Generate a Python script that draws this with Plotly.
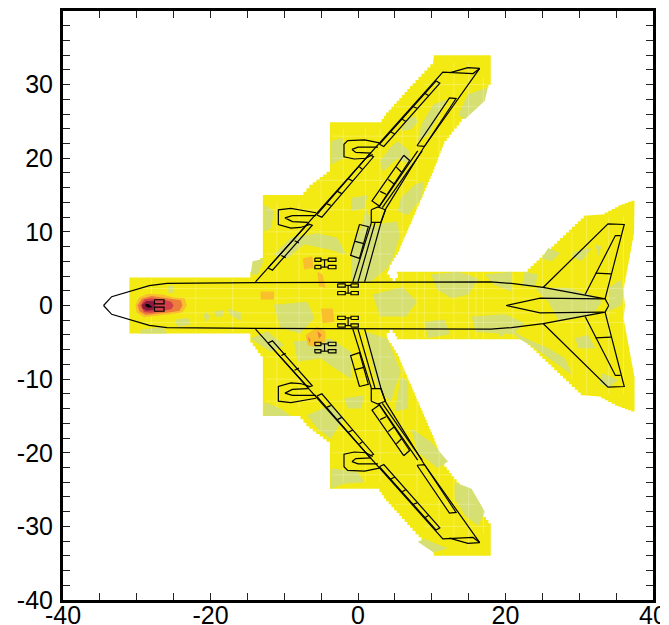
import plotly.graph_objects as go

# ---- colour field outline (upper half, mirrored for lower half) ----
field_upper = [(-31,0),(-31,3.8),(-14.6,3.8),(-14.6,4.6),(-12.9,6.9),(-12.9,15),(-7.8,15),(-6.6,16.4),(-3.8,18.5),(-3.8,24.9),
    (2.9,24.9),(3.8,26.2),(7.4,30.2),(10.2,33.2),(10.3,34),(18,34),(18,30),(15.4,26.6),(11.7,21.9),(10.2,18),(5.4,6.9),
    (4.3,5.1),(3.9,4.2),(4.7,3.3),(5.4,4.2),(5.2,4.6),(22.6,4.6),(30.6,12.2),(33,12.4),(35.3,13.6),(37.5,14.4),(37.5,10),(36,1.9),(36.2,0)]

green_patches = [
 [(-0.95,7.8),(.4,10.5),(1.1,13.2),(2,10.7),(3.6,11.2),(5.4,11.4),(5.6,9.2),(4.7,6.4),(4,5.1),(1.8,3.3),(-.95,3.3)],
 [(4.3,21.4),(5.4,22.3),(7,21),(7.2,19.1),(5.4,20),(3.4,18.2),(3,19.6)],
 [(14.9,28.7),(17.6,29.6),(17.2,27.8),(14.5,25.3),(13.6,25.9)],
 [(12.2,28),(10.8,25.5),(9.5,23.2),(8.1,22.3),(8.6,24.6),(10.2,27.3)],
 [(6.5,25.3),(7.7,25.7),(8.1,25),(7.2,23.9),(5.8,23.7)],
 [(5.8,14.6),(7.7,16.4),(9,16.9),(8.6,14.6),(6.8,12.3),(5.4,12.8)],
 [(-9.1,9.2),(-5.5,9.8),(-2.8,9.2),(-1.6,6.9),(-3.9,7.6),(-7.3,8.3),(-9.6,6.4),(-11.4,6.9)],
 [(-14.3,6),(-12.7,6.4),(-13.6,4.2),(-14.56,4.2)],
 [(-12.7,13.7),(-11.4,12.8),(-11.8,10.5),(-12.7,10.1)],
 [(-3.7,22.3),(-2.1,22.8),(-1.9,20.1),(-3.7,19.1)],
 [(-.95,14.6),(1.3,15),(.9,13.2),(-.95,12.8)],
 [(9.9,4.2),(13.6,4.6),(16.3,3.7),(15,1.5),(12.7,1),(10.8,2.1)],
 [(17.2,4.2),(20.8,4.6),(20.8,1.9),(18.5,2.8)],
 [(-11.4,.1),(-6.9,.5),(-5.9,-1.7),(-7.8,-3.8),(-10.5,-3.1)],
 [(-14.56,-4.5),(-12.3,-3.5),(-10,-5.4),(-11.8,-6.3)],
 [(-8.7,-4.9),(-3.7,-4.5),(-.95,-6.3),(-.95,-9.9),(-3.2,-8.5),(-5,-7.2),(-8.2,-7.6)],
 [(.9,-3.5),(4,-4.5),(5.8,-9),(5,-11.3),(4.5,-13.1),(2.7,-11.3),(1.3,-5.4)],
 [(5.8,-9.7),(6.8,-10.3),(6.8,-14),(5,-14.4)],
 [(7.2,-16.7),(9.9,-18.5),(12.2,-21.2),(10.8,-22.1),(8.1,-19.9)],
 [(13.1,-24),(15.4,-24.9),(17.2,-28),(16.3,-29.9),(14.5,-28.5),(13.1,-26.2)],
 [(-3.7,-22.1),(-.05,-22.6),(.9,-24),(-1.9,-24.2),(-3.7,-24.9)],
 [(-12.7,-13.1),(-10.5,-14),(-9.1,-15),(-12.7,-15)],
 [(-6.9,-14.9),(-3.7,-13.5),(-1.9,-15.3),(-3.7,-18.1),(-5.5,-16.7)],
 [(9,-31.7),(12.2,-33),(10.2,-33.5),(8.1,-32.1)],
 [(-1.9,-12.6),(.9,-12.2),(.4,-14),(-1.4,-14)],
 [(24,2.4),(28.5,2.4),(31.7,1.4),(33.1,.5),(31.7,-1.3),(27.2,-2),(25.8,.5)],
 [(29.4,7.3),(31.7,7.8),(30.3,6),(29,6.7)],
 [(32.2,8.3),(33,8),(32.6,6.7)],
 [(25.8,7.8),(27.4,7.1),(26.3,6),(24.9,6.4)],
 [(34,2.4),(35.6,3.5),(36,1.9),(35.8,.1),(34,-.8)],
 [(22.6,4.6),(24.4,4.2),(24,2.6),(22.2,2.6)],
 [(18.1,-1.3),(20.8,-1.5),(19.5,-4.4),(18.1,-2.6)],
 [(20.4,-3.1),(22.6,-4.4),(25.8,-5.8),(28.1,-7.2),(29,-9.4),(27.2,-8.1),(24,-5.8),(21.7,-4.4)],
 [(33.1,-9.2),(35.3,-10.1),(34,-11.2),(32.8,-10.6)],
 [(29.4,-4.4),(31.2,-4),(32.2,-5.8),(29.9,-5.8)],
 [(-25.7,2.6),(-25,2.8),(-25,1.7),(-25.7,1.7)],
 [(-24.8,-1.9),(-23,-1.7),(-22.7,-2.6),(-24.5,-2.9)],
 [(-29.5,-3.3),(-26.4,-2.9),(-25.9,-3.8),(-29.5,-3.8)],
 [(-20.7,-.8),(-20,-1.5),(-20.5,-2.2),(-20.9,-1.5)],
 [(-19.5,-.8),(-18.2,-.6),(-18.4,-1.5),(-19.3,-1.5)],
 [(-17.7,-.4),(-15.9,-1),(-15.9,-2.1),(-17.3,-1.3)],
 [(15.4,-1.5),(20,-1.2),(22.6,-2.4),(21,-3.9),(16,-3.6)],
 [(9,-2.2),(11.7,-1.9),(12.5,-3.9),(9.5,-4.4)],
 [(2,1.5),(6,2.5),(8,.5),(6.5,-1.5),(3,-1.5)],
]

orange_light = [
 [(-30.2,0),(-29.7,1.1),(-28.5,1.6),(-26.5,1.5),(-25,1.1),(-23.5,1),(-23.2,0),(-23.8,-.9),(-25.5,-1.2),(-27,-1.4),(-29,-1.6),(-30,-1)],
 [(-7.5,6.4),(-6.2,6.7),(-6,5.1),(-7.3,4.9)],
 [(-5.5,4.6),(-4.8,4.2),(-4.4,2.4),(-5.3,2.6)],
 [(-7.1,-4),(-5.5,-2.9),(-4.4,-3.5),(-4.4,-4.9),(-6,-5.6),(-6.8,-5.4)],
 [(-5,-.4),(-3.4,-.4),(-3.2,-2.2),(-4.8,-2.4)],
 [(-13.2,1.9),(-11.4,1.9),(-11.4,.8),(-13.2,.8)],
]
orange_mid = [
 [(-29.9,0),(-29.3,.9),(-28,1.3),(-26.5,1.1),(-25,.8),(-24,.7),(-23.8,0),(-24.2,-.7),(-25.5,-.9),(-27,-1.1),(-28.8,-1.3),(-29.6,-.8)],
 [(-6.8,-4.2),(-6.4,-4.7),(-6.6,-5.1)],
 [(-5.5,-3.5),(-4.9,-4),(-5.3,-4.5)],
]
red_core = [[(-29.5,0),(-29,.8),(-28,1),(-26.5,.8),(-25.3,.5),(-25,0),(-25.3,-.5),(-26.5,-.7),(-28,-1),(-29,-.9)]]
dark_core = [[(-29.3,.1),(-28.7,.6),(-27.7,.6),(-27.5,0),(-27.8,-.6),(-28.7,-.7),(-29.2,-.4)]]
black_core = [[(-28.8,.2),(-28.4,.2),(-27.9,-.2),(-28.4,-.3),(-28.8,-.1)]]

# ---- pale mesh texture: (x, y0, y1) and (y, x0, x1) ----
mesh_v = [(-28,-3.6,3.6),(-22,-3.6,3.6),(-17,-3.6,3.6),(-11,-14,14),(-8,-14,14),(-5,-17,17),(-2,-24,24),(1,-24,24),(3,-24,24),
          (6,-20,24),(8,-26,27),(9,-4.4,4.4),(11,-30,31),(13,-32,33),(15,-33,33),(17,-31,31),(16,-4.4,4.4),(21,-4.4,4.4),
          (25,-6.5,6.5),(29,-10,10),(31,-12,12),(34,-12,12),(36,-12,12)]
mesh_h = [(2.3,-30,36),(-2.3,-30,36),(1,-30,35),(-1,-30,35),(7,-12.5,4.5),(-7,-12.5,4.5),(10,-12.5,28),(-10,-12.5,28),(13,-12.5,6),(-13,-12.5,6),
          (17,-6,8),(-17,-6,8),(20,-3.5,12),(-20,-3.5,12),(23,-3.5,14),(-23,-3.5,14),(27,5,16),(-27,5,16),(30,9,17.5),(-30,9,17.5)]

# ---- aircraft outline (upper half; mirrored) ----
fuselage = [(-34.5,0),(-33.4,1.2),(-28.3,2.7),(-25.9,3),(-14,3.1),(18,3.2),(20.8,3),(25.1,2.45),(33.5,.9),(34,0)]
wing_edge = [(-13.9,3.2),(11.5,31.7),(15.6,31.5),(16.5,32.2),(14.9,32.3),(12.4,31.6)]
wing_trail = [(16.5,32.2),(9,21.6),(3.8,13.2),(3.1,11.2),(.9,3.2)]
outer_flap = [(8,21.7),(12.4,28.2),(13.3,28.1),(9,21.6),(8,21.7)]
strip_a = [(8.1,21),(2.8,13.3)]
strip_b = [(8.7,21),(3.3,13.3)]
mid_flap = [(6.2,20.4),(7,19.7),(2.9,13.5),(1.9,14.2),(6.2,20.4)]
mid_flap_div = [[(5.2,18.8),(5.9,18.1)],[(4.1,17.1),(4.9,16.5)],[(3,15.5),(3.8,15.1)]]
pentagon = [(1.8,13),(2.7,13.4),(3.7,13),(3.1,11.3),(1.8,11.3),(1.8,13)]
strip_c = [(2.3,11.2),(0,3.2)]
strip_d = [(1.8,11.2),(-.7,3.2)]
in_flap = [(.2,11),(1.4,10.7),(.2,6.4),(-1,6.8),(.2,11)]
in_flap_div = [(-.4,8.7),(.8,8.4)]
slat_in = [(-12.2,5.1),(-11.6,4.8),(-6.2,10.9),(-6.8,11.1),(-12.2,5.1)]
slat_in_div = [[(-10.4,6.8),(-9.8,6.5)],[(-8.6,8.8),(-8,8.5)]]
slat_mid = [(-5.6,12.3),(-4.9,12),(2.1,20.2),(1.5,20.5),(-5.6,12.3)]
slat_mid_div = [[(-4.2,13.8),(-3.7,13.6)],[(-2.8,15.5),(-2.2,15.2)],[(-1.3,17.2),(-.7,16.9)],[(.2,18.8),(.6,18.5)]]
slat_out = [(2.9,21.9),(3.5,21.6),(11.1,30.2),(10.6,30.5),(2.9,21.9)]
slat_out_div = [[(4.4,23.6),(5,23.3)],[(6,25.3),(6.5,25)],[(7.5,27),(8,26.8)],[(9.1,28.8),(9.6,28.5)]]
nac_out = [(2.9,22.1),(.9,22.5),(-1.4,22.4),(-1.9,21.9),(-1.9,20.2),(-.5,19.9),(1.1,20),(2,20.5)]
fan_out = [(2.7,21.5),(0,21.5),(-.8,21.2),(-.3,20.8),(1.8,20.7)]
nac_in = [(-5.7,12.6),(-7.8,13),(-9.1,13.2),(-10.8,13),(-10.8,11),(-9.1,10.5),(-7.8,10.6),(-6.5,11)]
fan_in = [(-5.7,12.2),(-8.9,12.2),(-9.9,11.9),(-8.9,11.4),(-6.8,11.3)]
stab = [(25.1,2.45),(33.9,11.1),(36.1,11),(33.5,.9)]
elevator = [(30.8,1.5),(34.9,9.5),(35.6,9.5)]
elev_div = [(32.2,4.4),(34.3,4.3)]
fin = [(20.1,0),(24.7,1),(33.3,.9)]
gear_a = [(-5.85,-5.03),(-4.04,-2.99),(6.43,5.98),(5.44,4.99)]
gear_b = [(-2.76,-1.73),(-.95,.04),(2.95,2.5),(1.9,1.46)]
nose_gear = [(-27.6,-26.3),(.78,.23)]

x_range = [-40, 40]
y_range = [-40, 40]
x_labels = [-40, -20, 0, 20, 40]
y_labels = [-40, -30, -20, -10, 0, 10, 20, 30]


def polys(items):
    xs, ys = [], []
    for poly in items:
        xs += [p[0] for p in poly] + [poly[0][0], None]
        ys += [p[1] for p in poly] + [poly[0][1], None]
    return xs, ys


def stepped(points, step=0.4):
    """Draw slanted edges of the field as the blocky cell staircase seen in the picture."""
    out = [points[0]]
    for (x0, y0), (x1, y1) in zip(points, points[1:]):
        dx, dy = x1 - x0, y1 - y0
        n = int(max(abs(dx), abs(dy)) / step)
        if abs(dx) > step and abs(dy) > step and n > 1:
            for i in range(1, n + 1):
                xa = x0 + dx * i / n
                ya = y0 + dy * (i - 1) / n
                out.append((xa, ya))
                out.append((xa, y0 + dy * i / n))
        else:
            out.append((x1, y1))
    return out


fig = go.Figure()


def fill(items, color):
    xs, ys = polys(items)
    fig.add_trace(go.Scatter(x=xs, y=ys, mode="lines", fill="toself", fillcolor=color,
                             line=dict(width=0, color=color), hoverinfo="skip", showlegend=False))


field = field_upper + [(x, -y) for x, y in reversed(field_upper[1:-1])]
fill([stepped(field + [field[0]])], "#f3ea14")
fill(green_patches, "#d5df72")

# mesh
mx, my = [], []
for x, a, b in mesh_v:
    mx += [x, x, None]; my += [a, b, None]
for y, a, b in mesh_h:
    mx += [a, b, None]; my += [y, y, None]
fig.add_trace(go.Scatter(x=mx, y=my, mode="lines", line=dict(width=1, color="rgba(255,255,235,0.28)"),
                         hoverinfo="skip", showlegend=False))

fill(orange_light, "#f9bf2d")
fill(orange_mid, "#ee7d3d")
fill(red_core, "#d2404a")
fill(dark_core, "#8b1a3c")
fill(black_core, "#000000")

# outline
paths = [fuselage, wing_edge, wing_trail, outer_flap, strip_a, strip_b, mid_flap, pentagon, strip_c, strip_d,
         in_flap, in_flap_div, slat_in, slat_mid, slat_out, nac_out, fan_out, nac_in, fan_in, stab, elevator, elev_div, fin]
paths += mid_flap_div + slat_in_div + slat_mid_div + slat_out_div

lx, ly = [], []
for path in paths:
    lx += [p[0] for p in path] + [None]
    ly += [p[1] for p in path] + [None]
    lx += [p[0] for p in path] + [None]
    ly += [-p[1] for p in path] + [None]

for (xa, xb), (xc, xd), (ya, yb), (yc, yd) in [tuple(g) for g in [gear_a, gear_b]]:
    for sign in (1, -1):
        for x0, x1 in ((xa, xb), (xc, xd)):
            for y0, y1 in ((ya, yb), (yc, yd)):
                lx += [x0, x1, x1, x0, x0, None]
                ly += [sign * y0, sign * y0, sign * y1, sign * y1, sign * y0, None]
        ym1, ym2 = (ya + yb) / 2, (yc + yd) / 2
        lx += [xb, xc, None, xb, xc, None, (xb + xc) / 2, (xb + xc) / 2, None]
        ly += [sign * ym1, sign * ym1, None, sign * ym2, sign * ym2, None, sign * ym1, sign * ym2, None]

(nx0, nx1), (ny0, ny1) = nose_gear
for sign in (1, -1):
    lx += [nx0, nx1, nx1, nx0, nx0, None]
    ly += [sign * ny0, sign * ny0, sign * ny1, sign * ny1, sign * ny0, None]

fig.add_trace(go.Scatter(x=lx, y=ly, mode="lines", line=dict(width=1.2, color="black"),
                         hoverinfo="skip", showlegend=False))

axis_common = dict(showgrid=False, zeroline=False, showline=True, linecolor="black", linewidth=3, mirror="allticks",
                   ticks="inside", ticklen=7, tickwidth=1.3, tickcolor="#222222", ticklabeloverflow="allow",
                   automargin=False, tickfont=dict(family="Liberation Sans", size=25, color="black"))
fig.update_layout(
    width=652, height=625, margin=dict(l=55, r=7, t=3, b=33),
    paper_bgcolor="white", plot_bgcolor="white", showlegend=False,
    xaxis=dict(range=x_range, tickvals=x_labels, ticktext=[str(v) for v in x_labels], ticklabelstandoff=-9,
               minor=dict(dtick=5, ticks="inside", ticklen=7, tickwidth=1.3, tickcolor="#222222", showgrid=False),
               **axis_common),
    yaxis=dict(range=y_range, tickvals=y_labels, ticktext=[str(v) for v in y_labels], ticklabelstandoff=2,
               minor=dict(dtick=2, ticks="inside", ticklen=7, tickwidth=1.3, tickcolor="#222222", showgrid=False),
               **axis_common),
)
fig.write_html("out.html")
